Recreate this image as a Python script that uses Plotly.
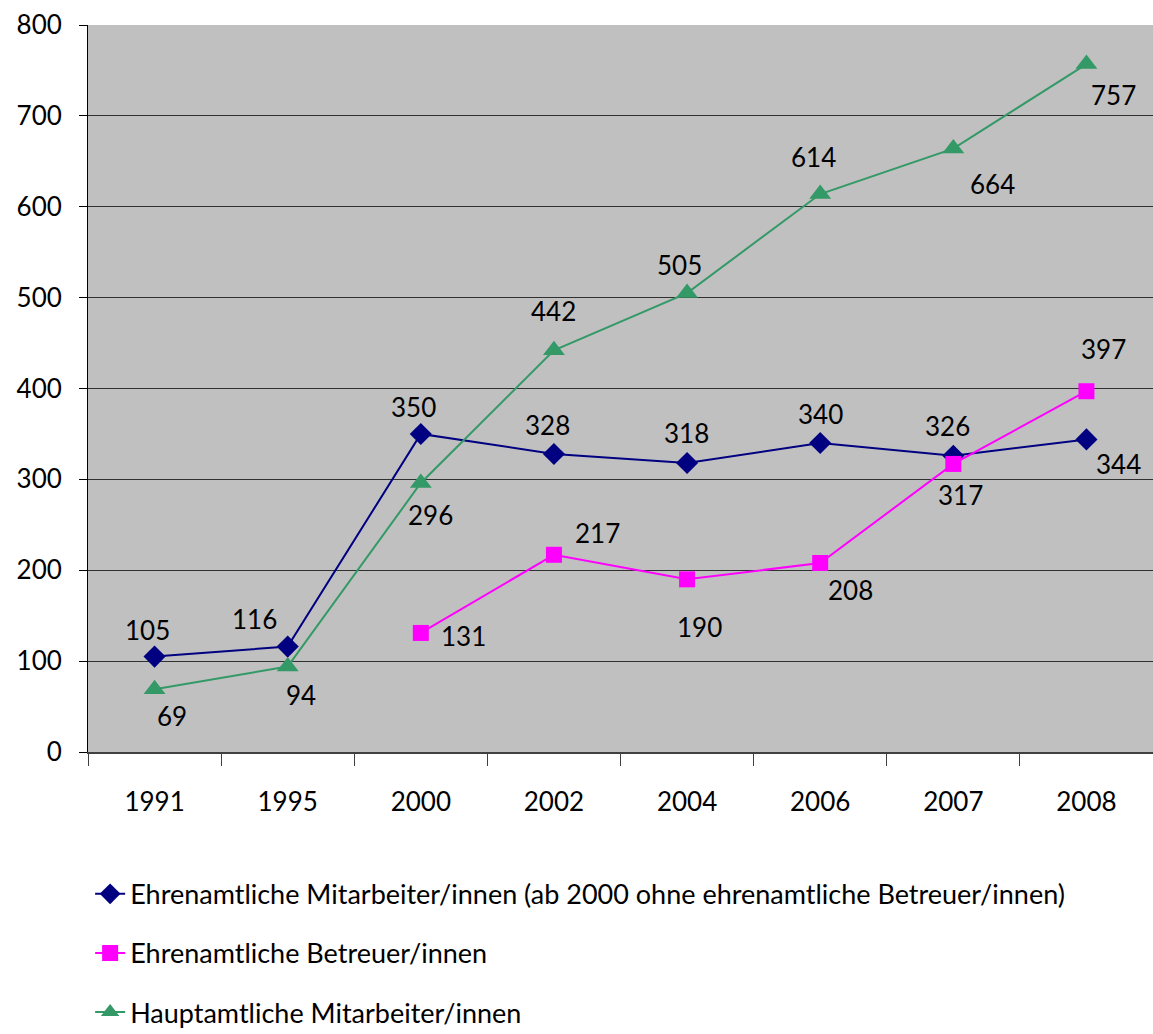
import plotly.graph_objects as go

# Jahre (Kategorien) und Werte der drei Reihen
years = ["1991", "1995", "2000", "2002", "2004", "2006", "2007", "2008"]
ehrenamt_mitarbeiter = [105, 116, 350, 328, 318, 340, 326, 344]
ehrenamt_betreuer = [None, None, 131, 217, 190, 208, 317, 397]
hauptamt_mitarbeiter = [69, 94, 296, 442, 505, 614, 664, 757]

names = [
    "Ehrenamtliche Mitarbeiter/innen (ab 2000 ohne ehrenamtliche Betreuer/innen)",
    "Ehrenamtliche Betreuer/innen",
    "Hauptamtliche Mitarbeiter/innen",
]
colors = ["#000080", "#FF00FF", "#339966"]
symbols = ["diamond", "square", "triangle-up"]
sizes = [17, 16, 19]

# Pixelversatz der Wertbeschriftungen je Punkt (dx, dy)
offsets = [
    [(-7, -27), (-33, -28), (-7, -27), (-6, -29), (-1, -30), (0, -29), (-6, -30), (32, 25)],
    [None, None, (43, 3), (44, -22), (12, 48), (30, 27), (7, 31), (17, -42)],
    [(17, 27), (13, 28), (10, 32), (0, -39), (-8, -28), (-7, -37), (39, 35), (27, 31)],
]

font_family = "Lato, 'Open Sans', sans-serif"

fig = go.Figure()
series = [ehrenamt_mitarbeiter, ehrenamt_betreuer, hauptamt_mitarbeiter]
for i, vals in enumerate(series):
    fig.add_trace(go.Scatter(
        x=years, y=vals, name=names[i], mode="lines+markers",
        line=dict(color=colors[i], width=2),
        marker=dict(symbol=symbols[i], size=sizes[i], color=colors[i]),
        legendgroup=f"g{i}", connectgaps=False,
    ))

# Wertbeschriftungen: x als Kategorienindex, damit "1991" nicht als Zahl gelesen wird
annotations = []
for i, vals in enumerate(series):
    for j, v in enumerate(vals):
        if v is None:
            continue
        dx, dy = offsets[i][j]
        annotations.append(dict(
            x=j, y=v, xref="x", yref="y", text=str(v), showarrow=False,
            xshift=dx, yshift=-dy, font=dict(size=26, color="black", family=font_family),
        ))

fig.update_layout(
    width=1153, height=1034,
    margin=dict(l=88, r=0, t=25, b=282, autoexpand=False),
    paper_bgcolor="white", plot_bgcolor="#C0C0C0",
    font=dict(family=font_family, size=26, color="black"),
    annotations=annotations,
    showlegend=True,
    legend=dict(
        x=0.002, y=-0.162, xanchor="left", yanchor="top",
        font=dict(size=27, family=font_family), tracegroupgap=21,
        bgcolor="rgba(0,0,0,0)", traceorder="grouped",
    ),
)

fig.update_xaxes(
    type="category", tickson="boundaries", ticks="outside", ticklen=12,
    tickcolor="#404040", showline=True, linecolor="#404040", linewidth=2,
    showgrid=False, ticklabelstandoff=26, tickfont=dict(size=26),
    range=[-0.5, 7.5],
)
fig.update_yaxes(
    range=[0, 800], dtick=100, ticks="outside", ticklen=8, tickcolor="black",
    showline=True, linecolor="black", linewidth=1,
    showgrid=True, gridcolor="#303030", gridwidth=1,
    zeroline=False, ticklabelstandoff=12, tickfont=dict(size=26),
)

fig.write_html("out.html")
